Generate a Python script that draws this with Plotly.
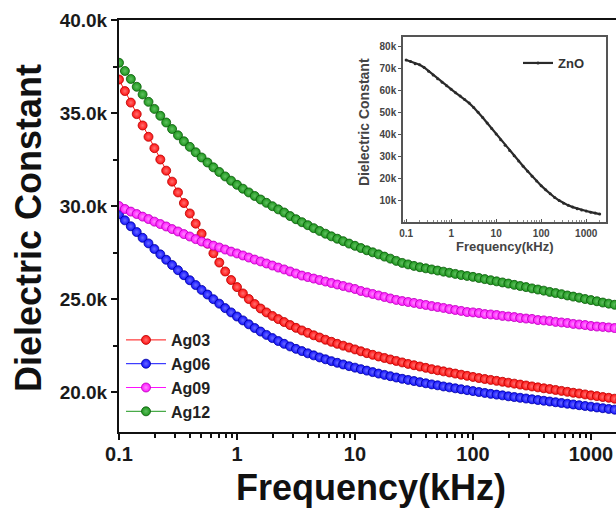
import plotly.graph_objects as go

# ---------------- data ----------------
FREQ_KHZ = [
    0.1, 0.1122, 0.1259, 0.1413, 0.1585, 0.1778, 0.1995, 0.2239, 0.2512, 0.2818,
    0.3162, 0.3548, 0.3981, 0.4467, 0.5012, 0.5623, 0.631, 0.7079, 0.7943, 0.8913,
    1, 1.122, 1.259, 1.413, 1.585, 1.778, 1.995, 2.239, 2.512, 2.818,
    3.162, 3.548, 3.981, 4.467, 5.012, 5.623, 6.31, 7.079, 7.943, 8.913,
    10, 11.22, 12.59, 14.13, 15.85, 17.78, 19.95, 22.39, 25.12, 28.18,
    31.62, 35.48, 39.81, 44.67, 50.12, 56.23, 63.1, 70.79, 79.43, 89.13,
    100, 112.2, 125.9, 141.3, 158.5, 177.8, 199.5, 223.9, 251.2, 281.8,
    316.2, 354.8, 398.1, 446.7, 501.2, 562.3, 631, 707.9, 794.3, 891.3,
    1000, 1122, 1259, 1413, 1585, 1778, 1995,
]

AG03 = [
    36800, 36180, 35560, 34940, 34330, 33720, 33110, 32500, 31900, 31310,
    30730, 30160, 29600, 29050, 28510, 27980, 27460, 26960, 26480, 26020,
    25640, 25300, 25000, 24730, 24490, 24280, 24090, 23920, 23760, 23600,
    23450, 23310, 23180, 23050, 22930, 22810, 22700, 22590, 22490, 22390,
    22290, 22190, 22090, 22000, 21910, 21830, 21750, 21670, 21590, 21510,
    21440, 21370, 21300, 21230, 21170, 21110, 21050, 20990, 20930, 20870,
    20810, 20750, 20700, 20650, 20600, 20550, 20500, 20450, 20400, 20350,
    20300, 20250, 20200, 20160, 20110, 20060, 20010, 19960, 19920, 19870,
    19820, 19780, 19730, 19690, 19640, 19600, 19560,
]

AG06 = [
    29550, 29230, 28910, 28600, 28290, 27990, 27690, 27400, 27110, 26830,
    26550, 26280, 26010, 25750, 25490, 25240, 24990, 24750, 24510, 24280,
    24060, 23850, 23640, 23440, 23250, 23070, 22900, 22740, 22590, 22450,
    22320, 22200, 22080, 21970, 21860, 21760, 21660, 21570, 21480, 21390,
    21310, 21230, 21150, 21070, 20990, 20920, 20850, 20780, 20710, 20650,
    20590, 20530, 20470, 20410, 20360, 20300, 20250, 20200, 20150, 20100,
    20050, 20000, 19950, 19900, 19860, 19820, 19770, 19730, 19690, 19650,
    19610, 19570, 19530, 19490, 19450, 19410, 19370, 19330, 19290, 19250,
    19210, 19170, 19130, 19090, 19050, 19010, 18970,
]

AG09 = [
    30000, 29840, 29700, 29570, 29430, 29300, 29160, 29030, 28900, 28760,
    28630, 28490, 28360, 28220, 28090, 27980, 27870, 27770, 27660, 27550,
    27450, 27340, 27230, 27120, 27020, 26910, 26800, 26690, 26590, 26480,
    26370, 26260, 26180, 26100, 26020, 25940, 25860, 25780, 25700, 25620,
    25540, 25430, 25350, 25270, 25190, 25110, 25030, 24950, 24890, 24840,
    24790, 24730, 24680, 24620, 24570, 24520, 24460, 24410, 24360, 24300,
    24280, 24250, 24190, 24170, 24140, 24090, 24060, 24030, 23980, 23950,
    23930, 23870, 23850, 23820, 23770, 23740, 23710, 23660, 23630, 23600,
    23550, 23520, 23500, 23470, 23440, 23390, 23360,
]

AG12 = [
    37700, 37260, 36830, 36410, 36000, 35600, 35220, 34850, 34490, 34140,
    33800, 33480, 33180, 32890, 32610, 32340, 32080, 31830, 31590, 31360,
    31140, 30930, 30730, 30540, 30350, 30170, 29990, 29820, 29650, 29460,
    29290, 29130, 28970, 28810, 28660, 28510, 28370, 28240, 28110, 27980,
    27860, 27740, 27620, 27510, 27400, 27280, 27170, 27050, 26940, 26860,
    26780, 26710, 26650, 26590, 26530, 26470, 26410, 26350, 26290, 26240,
    26190, 26130, 26070, 26010, 25950, 25890, 25830, 25760, 25700, 25640,
    25570, 25510, 25450, 25380, 25320, 25260, 25190, 25130, 25070, 25000,
    24940, 24880, 24810, 24750, 24690, 24630, 24570,
]

ZNO_FREQ_KHZ = FREQ_KHZ[::2]
ZNO = [
    74000, 73300, 72300, 71800, 70600, 68900, 67100, 65400, 63800, 62200,
    60600, 59000, 57500, 56000, 54300, 52300, 50100, 47700, 45200, 42700,
    40200, 37600, 35100, 32700, 30300, 27900, 25500, 23200, 20900, 18700,
    16600, 14700, 12900, 11200, 9800, 8600, 7600, 6800, 6100, 5500,
    5000, 4500, 4100, 3600,
]

SERIES_NAMES = ["Ag03", "Ag06", "Ag09", "Ag12"]
SERIES_VALUES = [AG03, AG06, AG09, AG12]
SERIES_COLORS = ["#ff1010", "#1010ff", "#ff10ff", "#1c961c"]
SERIES_EDGES = ["#b80000", "#0000a0", "#b800b8", "#0a5a0a"]
SERIES_CENTERS = ["#ff7070", "#6a6aff", "#ff8aff", "#60c060"]

X_TICKVALS = [0.1, 1, 10, 100, 1000]
X_TICKTEXT = ["0.1", "1", "10", "100", "1000"]
Y_TICKVALS = [20000, 25000, 30000, 35000, 40000]
Y_TICKTEXT = ["20.0k", "25.0k", "30.0k", "35.0k", "40.0k"]
INSET_Y_TICKVALS = [10000, 20000, 30000, 40000, 50000, 60000, 70000, 80000]
INSET_Y_TICKTEXT = ["10k", "20k", "30k", "40k", "50k", "60k", "70k", "80k"]

FONT = "Liberation Sans, Arial, sans-serif"

fig = go.Figure()

for name, vals, col, edge, cen in zip(SERIES_NAMES, SERIES_VALUES, SERIES_COLORS,
                                      SERIES_EDGES, SERIES_CENTERS):
    fig.add_trace(go.Scatter(
        x=FREQ_KHZ, y=vals, name=name, mode="lines+markers",
        line=dict(color=col, width=1),
        marker=dict(symbol="circle", size=9, color=col,
                    gradient=dict(type="radial", color=cen),
                    line=dict(color=edge, width=0.8)),
        xaxis="x", yaxis="y", legend="legend",
    ))

fig.add_trace(go.Scatter(
    x=ZNO_FREQ_KHZ, y=ZNO, name="ZnO", mode="lines+markers",
    line=dict(color="#2a2a2a", width=2.2),
    marker=dict(symbol="circle", size=3, color="#2a2a2a"),
    xaxis="x2", yaxis="y2", legend="legend2",
))

W, H = 616, 509
L, R, T, B = 119, 0, 20, 77
PW, PH = W - L - R, H - T - B


def px_x(p):
    return (p - L) / PW


def px_y(p):
    return (H - B - p) / PH


fig.update_layout(
    width=W, height=H,
    margin=dict(l=L, r=R, t=T, b=B),
    paper_bgcolor="white", plot_bgcolor="white",
    font=dict(family=FONT, color="#111111"),
    xaxis=dict(
        type="log", range=[-1, 3.212], domain=[0, 1],
        tickvals=X_TICKVALS, ticktext=X_TICKTEXT,
        tickfont=dict(size=20, weight="bold", color="#1a1a1a"),
        ticks="outside", ticklen=6, tickwidth=2, tickcolor="#111111",
        ticklabelstandoff=-3,
        minor=dict(ticks="outside", ticklen=4, tickwidth=1.5, dtick="D1",
                   tickcolor="#111111", showgrid=False),
        showline=True, linecolor="#111111", linewidth=2, mirror=True,
        showgrid=False, zeroline=False,
    ),
    yaxis=dict(
        range=[17850, 40000], domain=[0, 1],
        tickvals=Y_TICKVALS, ticktext=Y_TICKTEXT,
        tickfont=dict(size=19, weight="bold", color="#1a1a1a"),
        ticks="outside", ticklen=6, tickwidth=2, tickcolor="#111111",
        minor=dict(ticks="outside", ticklen=4, tickwidth=1.5, dtick=2500,
                   tick0=0, tickcolor="#111111", showgrid=False),
        showline=True, linecolor="#111111", linewidth=2, mirror=False,
        showgrid=False, zeroline=False,
    ),
    xaxis2=dict(
        type="log", range=[-1.07, 3.44], domain=[px_x(403), px_x(606)],
        anchor="y2",
        tickvals=X_TICKVALS, ticktext=X_TICKTEXT,
        tickfont=dict(size=10, weight="bold", color="#444444"),
        ticks="inside", ticklen=3, tickwidth=1, tickcolor="#555555",
        ticklabelstandoff=1,
        minor=dict(ticks="inside", ticklen=2, tickwidth=1, dtick="D1",
                   tickcolor="#888888", showgrid=False),
        showline=True, linecolor="#555555", linewidth=1.5, mirror=True,
        showgrid=False, zeroline=False,
    ),
    yaxis2=dict(
        range=[0, 84500], domain=[px_y(222), px_y(37)], anchor="x2",
        tickvals=INSET_Y_TICKVALS, ticktext=INSET_Y_TICKTEXT,
        tickfont=dict(size=10, weight="bold", color="#444444"),
        ticks="outside", ticklen=3, tickwidth=1, tickcolor="#555555",
        showline=True, linecolor="#555555", linewidth=1.5, mirror=True,
        showgrid=False, zeroline=False,
    ),
    legend=dict(
        x=px_x(121), y=px_y(323), xanchor="left", yanchor="top",
        bgcolor="rgba(0,0,0,0)", borderwidth=0,
        font=dict(size=16, weight="bold", color="#222222"),
        tracegroupgap=0, itemwidth=40,
    ),
    legend2=dict(
        x=px_x(518), y=px_y(48), xanchor="left", yanchor="top",
        bgcolor="rgba(0,0,0,0)", borderwidth=0,
        font=dict(size=13, weight="bold", color="#333333"),
        itemwidth=30,
    ),
    annotations=[
        dict(text="Dielectric Constant", textangle=-90,
             xref="paper", yref="paper", x=px_x(28), y=px_y(228),
             xanchor="center", yanchor="middle", showarrow=False,
             font=dict(size=36, weight="bold", color="#111111", family=FONT)),
        dict(text="Frequency(kHz)",
             xref="paper", yref="paper", x=px_x(371), y=px_y(487),
             xanchor="center", yanchor="middle", showarrow=False,
             font=dict(size=36, weight="bold", color="#111111", family=FONT)),
        dict(text="Dielectric Constant", textangle=-90,
             xref="paper", yref="paper", x=px_x(364), y=px_y(122),
             xanchor="center", yanchor="middle", showarrow=False,
             font=dict(size=14, weight="bold", color="#444444", family=FONT)),
        dict(text="Frequency(kHz)",
             xref="paper", yref="paper", x=px_x(505), y=px_y(246),
             xanchor="center", yanchor="middle", showarrow=False,
             font=dict(size=13, weight="bold", color="#444444", family=FONT)),
    ],
)

fig.write_html("out.html")
